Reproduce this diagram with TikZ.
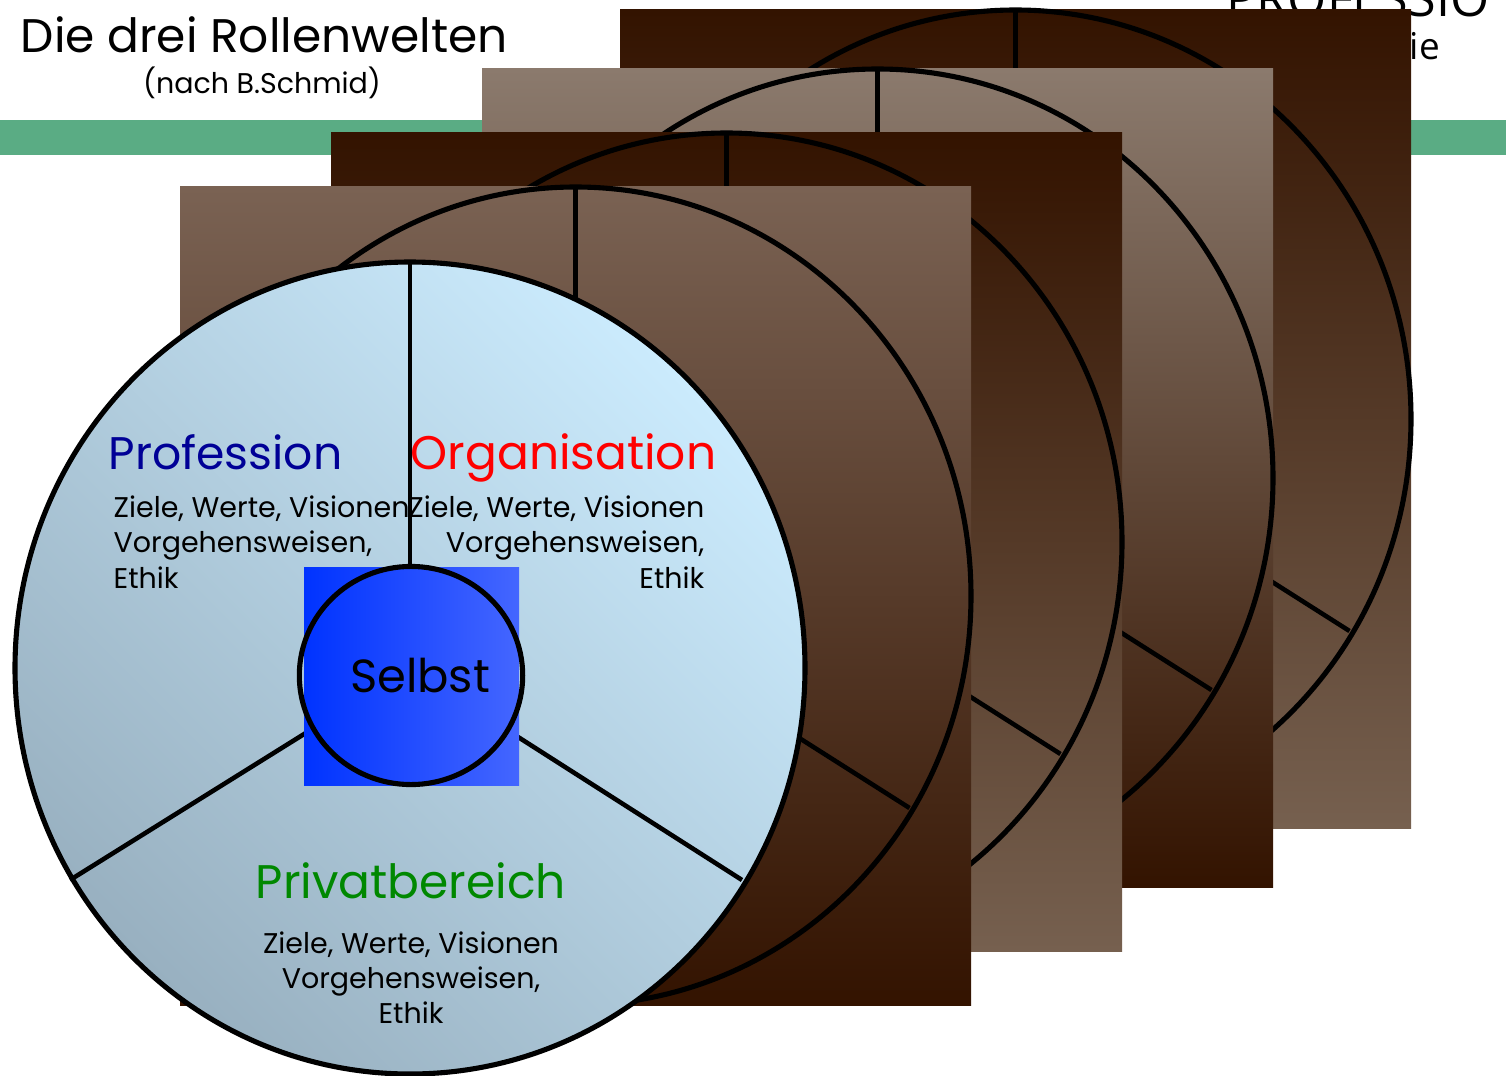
\documentclass[tikz,border=0pt]{standalone}
\usepackage{fontspec}
\setmainfont{Poppins}
\newfontfamily\logofont{Open Sans}
\usetikzlibrary{shapes.geometric}

\definecolor{barGreen}{RGB}{90,172,132}
\definecolor{brownLight}{RGB}{122,98,83}
\definecolor{brownGrey}{RGB}{139,122,109}
\definecolor{brownMid}{RGB}{118,96,79}
\definecolor{brownDark}{RGB}{51,19,0}
\definecolor{skyLight}{RGB}{203,235,253}
\definecolor{skyDark}{RGB}{152,176,192}
\definecolor{selbstLeft}{RGB}{0,51,255}
\definecolor{selbstRight}{RGB}{68,102,255}
\definecolor{profBlue}{RGB}{0,0,150}
\definecolor{privGreen}{RGB}{0,136,0}

\tikzset{
  rim/.style={draw=black, line width=1.45pt},
  spoke/.style={draw=black, line width=1.3pt},
  heading/.style={font=\fontsize{13.4}{16}\selectfont, inner sep=0pt, anchor=base},
  bodyline/.style={font=\fontsize{8.1}{10}\selectfont, inner sep=0pt, text=black, anchor=base}
}

\begin{document}
\begin{tikzpicture}[x=0.01cm,y=-0.01cm]
\useasboundingbox (0,0) rectangle (1506,1076);

% Header
\fill[barGreen] (0,120) rectangle (1506,155);
\node[font=\logofont\fontsize{14.3}{16}\selectfont, anchor=base east, inner sep=0pt] (logo) at (1490,17) {PROFESSIO};
\node[font=\logofont\fontsize{10.5}{13}\selectfont, anchor=base west, inner sep=0pt] (logoline) at (1409,60) {ie};
\node[heading, anchor=base west] (title) at (20,53) {Die drei Rollenwelten};
\node[font=\fontsize{8.1}{10}\selectfont, anchor=base, inner sep=0pt] (subtitle) at (262,94) {(nach B.Schmid)};

% Back panels
\fill[top color=brownDark, bottom color=brownMid] (620,10) rectangle (1411,828);
\draw[rim] (1015.5,419) ellipse (395.5 and 409);
\draw[spoke] (1015.5,419) -- (1015.5,10);
\draw[spoke] (1015.5,419) -- ++(334,212);

\fill[top color=brownGrey, bottom color=brownDark] (482,69) rectangle (1273,887);
\draw[rim] (877.5,478) ellipse (395.5 and 409);
\draw[spoke] (877.5,478) -- (877.5,69);
\draw[spoke] (877.5,478) -- ++(334,212);

\fill[top color=brownDark, bottom color=brownMid] (331,133) rectangle (1122,951);
\draw[rim] (726.5,542) ellipse (395.5 and 409);
\draw[spoke] (726.5,542) -- (726.5,133);
\draw[spoke] (726.5,542) -- ++(334,212);

\fill[top color=brownLight, bottom color=brownDark] (180,187) rectangle (971,1005);
\draw[rim] (575.5,596) ellipse (395.5 and 409);
\draw[spoke] (575.5,596) -- (575.5,187);
\draw[spoke] (575.5,596) -- ++(334,212);

% Front wheel
\draw[rim, top color=skyLight, bottom color=skyDark, shading angle=-45] (410,668) ellipse (395 and 406);
\coordinate (hub) at (410,668);
\coordinate (rimT) at (410,262);
\coordinate (rimL) at (70,880);
\coordinate (rimR) at (742,880);
\draw[spoke] (hub) -- (rimT);
\draw[spoke] (hub) -- (rimL);
\draw[spoke] (hub) -- (rimR);

% Self in the middle
\fill[left color=selbstLeft, right color=selbstRight] (304,567) rectangle (519,785);
\node[ellipse, draw=black, line width=1.45pt, minimum width=2.14cm, minimum height=2.18cm, inner sep=0pt,
  font=\fontsize{13.2}{16}\selectfont] (selbst) at (411,675.5) {\hspace*{0.18cm}Selbst};

% Role labels
\node[heading, anchor=base west, text=profBlue, font=\fontsize{13}{16}\selectfont] (profession) at (108,469) {Profession};
\node[heading, anchor=base east, text=red] (organisation) at (717,469) {Organisation};
\node[heading, text=privGreen] (privat) at (411,898) {Privatbereich};

\node[bodyline, anchor=base west] (profA) at (113,517) {Ziele, Werte, Visionen};
\node[bodyline, anchor=base west] (profB) at (113,552.5) {Vorgehensweisen,};
\node[bodyline, anchor=base west] (profC) at (113,588) {Ethik};

\node[bodyline, anchor=base east] (orgA) at (705,517) {Ziele, Werte, Visionen};
\node[bodyline, anchor=base east] (orgB) at (705,552.5) {Vorgehensweisen,};
\node[bodyline, anchor=base east] (orgC) at (705,588) {Ethik};

\node[bodyline] (privA) at (411,953) {Ziele, Werte, Visionen};
\node[bodyline] (privB) at (411,988) {Vorgehensweisen,};
\node[bodyline] (privC) at (411,1023) {Ethik};

\end{tikzpicture}
\end{document}
